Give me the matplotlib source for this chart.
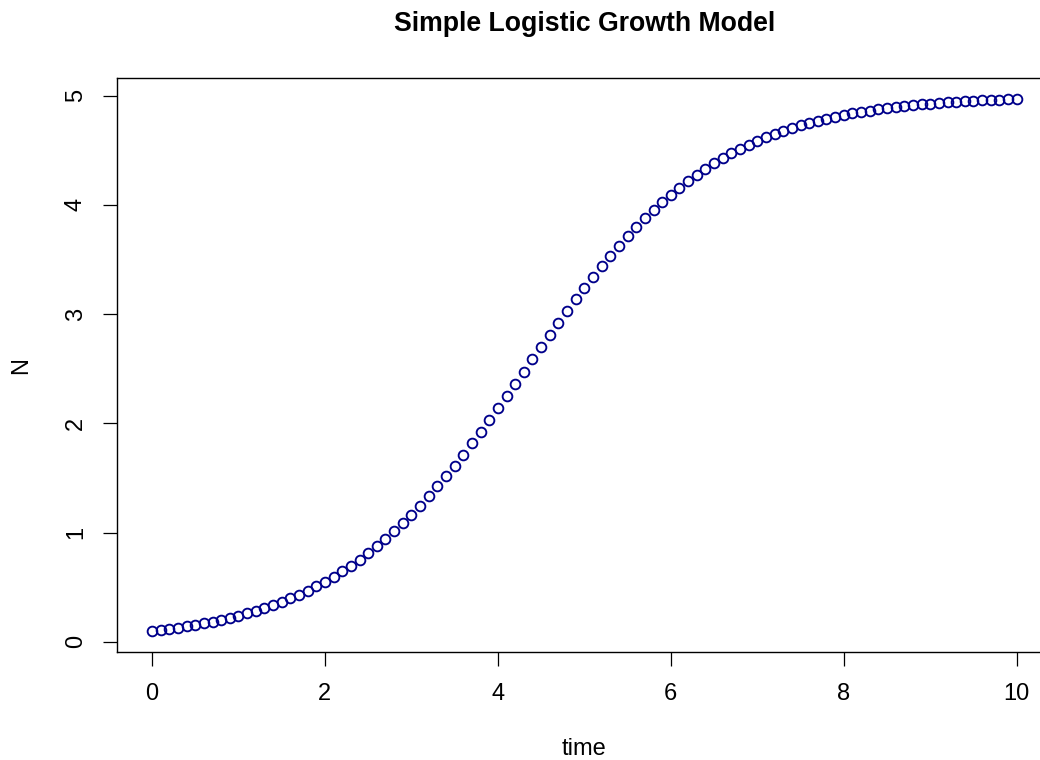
import matplotlib
matplotlib.use("Agg")
import matplotlib.pyplot as plt

plt.rcParams['font.family'] = ['Liberation Sans', 'DejaVu Sans']

time = [0.0, 0.1, 0.2, 0.3, 0.4, 0.5, 0.6, 0.7, 0.8, 0.9,
        1.0, 1.1, 1.2, 1.3, 1.4, 1.5, 1.6, 1.7, 1.8, 1.9,
        2.0, 2.1, 2.2, 2.3, 2.4, 2.5, 2.6, 2.7, 2.8, 2.9,
        3.0, 3.1, 3.2, 3.3, 3.4, 3.5, 3.6, 3.7, 3.8, 3.9,
        4.0, 4.1, 4.2, 4.3, 4.4, 4.5, 4.6, 4.7, 4.8, 4.9,
        5.0, 5.1, 5.2, 5.3, 5.4, 5.5, 5.6, 5.7, 5.8, 5.9,
        6.0, 6.1, 6.2, 6.3, 6.4, 6.5, 6.6, 6.7, 6.8, 6.9,
        7.0, 7.1, 7.2, 7.3, 7.4, 7.5, 7.6, 7.7, 7.8, 7.9,
        8.0, 8.1, 8.2, 8.3, 8.4, 8.5, 8.6, 8.7, 8.8, 8.9,
        9.0, 9.1, 9.2, 9.3, 9.4, 9.5, 9.6, 9.7, 9.8, 9.9,
        10.0]

N = [0.100, 0.109, 0.119, 0.130, 0.142, 0.155, 0.169, 0.185, 0.201, 0.219,
     0.239, 0.260, 0.283, 0.308, 0.336, 0.365, 0.397, 0.431, 0.467, 0.507,
     0.549, 0.595, 0.644, 0.696, 0.752, 0.811, 0.874, 0.941, 1.012, 1.086,
     1.165, 1.247, 1.333, 1.423, 1.516, 1.613, 1.713, 1.816, 1.921, 2.028,
     2.138, 2.249, 2.360, 2.473, 2.585, 2.697, 2.809, 2.919, 3.027, 3.134,
     3.238, 3.339, 3.437, 3.532, 3.624, 3.712, 3.796, 3.876, 3.953, 4.025,
     4.094, 4.159, 4.220, 4.277, 4.331, 4.382, 4.429, 4.473, 4.514, 4.552,
     4.587, 4.620, 4.651, 4.679, 4.705, 4.729, 4.751, 4.771, 4.790, 4.808,
     4.824, 4.838, 4.852, 4.864, 4.876, 4.886, 4.896, 4.904, 4.913, 4.920,
     4.927, 4.933, 4.939, 4.944, 4.949, 4.953, 4.957, 4.961, 4.964, 4.967,
     4.970]

xticks = [0, 2, 4, 6, 8, 10]
yticks = [0, 1, 2, 3, 4, 5]
title = "Simple Logistic Growth Model"
xlabel = "time"
ylabel = "N"

W, H = 1040, 760
fig = plt.figure(figsize=(W / 100, H / 100), dpi=100)

# axes box in pixel coordinates (R-style 4% padding)
left_px, right_px, top_px, bottom_px = 117.4, 1051.3, 77.7, 652.1
ax = fig.add_axes([left_px / W, 1 - bottom_px / H,
                   (right_px - left_px) / W, (bottom_px - top_px) / H])

ax.plot(time, N, linestyle='none', marker='o', markersize=7.0,
        markerfacecolor='none', markeredgecolor='#00008B', markeredgewidth=1.35)

xr = max(time) - min(time)
yr = max(N) - min(N)
ax.set_xlim(min(time) - 0.04 * xr, max(time) + 0.04 * xr)
ax.set_ylim(min(N) - 0.04 * yr, max(N) + 0.04 * yr)

ax.set_xticks(xticks)
ax.set_yticks(yticks)
ax.set_xticklabels([str(v) for v in xticks])
ax.set_yticklabels([str(v) for v in yticks], rotation=90, va='center')
ax.tick_params(direction='out', length=10, width=0.9, labelsize=17, pad=12,
               color='black')

for s in ax.spines.values():
    s.set_linewidth(1.0)
    s.set_color('black')

cx = (left_px + right_px) / 2
fig.text(cx / W, 1 - 749 / H, xlabel, ha='center', va='center', fontsize=17)
fig.text(21 / W, 1 - 365.5 / H, ylabel, ha='center', va='center', fontsize=17,
         rotation=90)
fig.text(cx / W, 1 - 31 / H, title, ha='center', va='baseline', fontsize=19.2,
         fontweight='bold')

fig.savefig("out.png", dpi=100)
